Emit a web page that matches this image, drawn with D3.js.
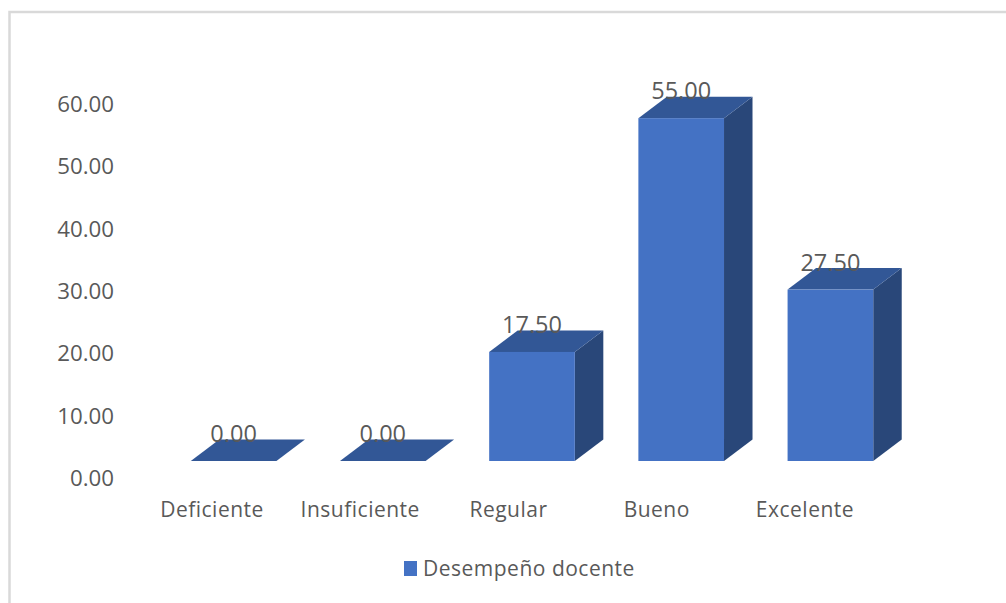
<!DOCTYPE html>
<html><head><meta charset="utf-8">
<script src="https://cdn.jsdelivr.net/npm/d3@7/dist/d3.min.js"></script>
<style>html,body{margin:0;padding:0;background:#fff;overflow:hidden}svg{display:block}text{font-family:"Open Sans",sans-serif;fill:#595959}</style>
</head><body><svg id="c" width="1006" height="603"></svg>
<script>
const categories = ["Deficiente","Insuficiente","Regular","Bueno","Excelente"];
const seriesName = "Desempeño docente";
const values = [0,0,17.5,55,27.5];
const yTicks = [0,10,20,30,40,50,60];

const svg = d3.select("#c");
const y = d3.scaleLinear().domain([0,60]).range([461,87]);
const x = d3.scaleBand().domain(categories).range([159,905]).paddingInner(0.426).paddingOuter(0.213);
const xLabel = d3.scalePoint().domain(categories).range([212,805]);
const W = x.bandwidth(), dx = 28.5, dy = 21.5;
const fmt = d3.format(".2f");

// chart frame
svg.append("path").attr("d","M1006 12H9.5V603").attr("fill","none").attr("stroke","#d9d9d9").attr("stroke-width",2.5);

// y axis labels
svg.append("g").selectAll("text").data(yTicks).join("text")
  .attr("x",114).attr("y",d=>y(d)+17).attr("dy","0.36em").attr("text-anchor","end")
  .attr("font-size",22.3).text(fmt);

const bars = svg.append("g").selectAll("g").data(categories.map((c,i)=>({c,v:values[i]}))).join("g");
const px = d=>x(d.c);
bars.filter(d=>d.v>0).append("path").attr("fill","#294779")
  .attr("d",d=>`M${px(d)+W} ${y(d.v)}l${dx} ${-dy}V${y(0)-dy}l${-dx} ${dy}Z`);
bars.append("path").attr("fill","#325796")
  .attr("d",d=>`M${px(d)} ${y(d.v)}l${dx} ${-dy}h${W}l${-dx} ${dy}Z`);
bars.filter(d=>d.v>0).append("rect").attr("fill","#4472C4")
  .attr("x",px).attr("y",d=>y(d.v)).attr("width",W).attr("height",d=>y(0)-y(d.v));

// data labels
bars.append("text").attr("x",d=>px(d)+W/2).attr("y",d=>y(d.v)-19)
  .attr("text-anchor","middle").attr("font-size",23.5).text(d=>fmt(d.v));

// category labels
svg.append("g").selectAll("text").data(categories).join("text")
  .attr("x",d=>xLabel(d)).attr("y",509).attr("dy","0.36em").attr("text-anchor","middle")
  .attr("font-size",21).attr("letter-spacing",0.5).text(d=>d);

// legend
svg.append("rect").attr("x",404).attr("y",561).attr("width",13).attr("height",15).attr("fill","#4472C4");
svg.append("text").attr("x",423).attr("y",568).attr("dy","0.36em").attr("font-size",21).attr("letter-spacing",0.5).text(seriesName);
</script></body></html>
